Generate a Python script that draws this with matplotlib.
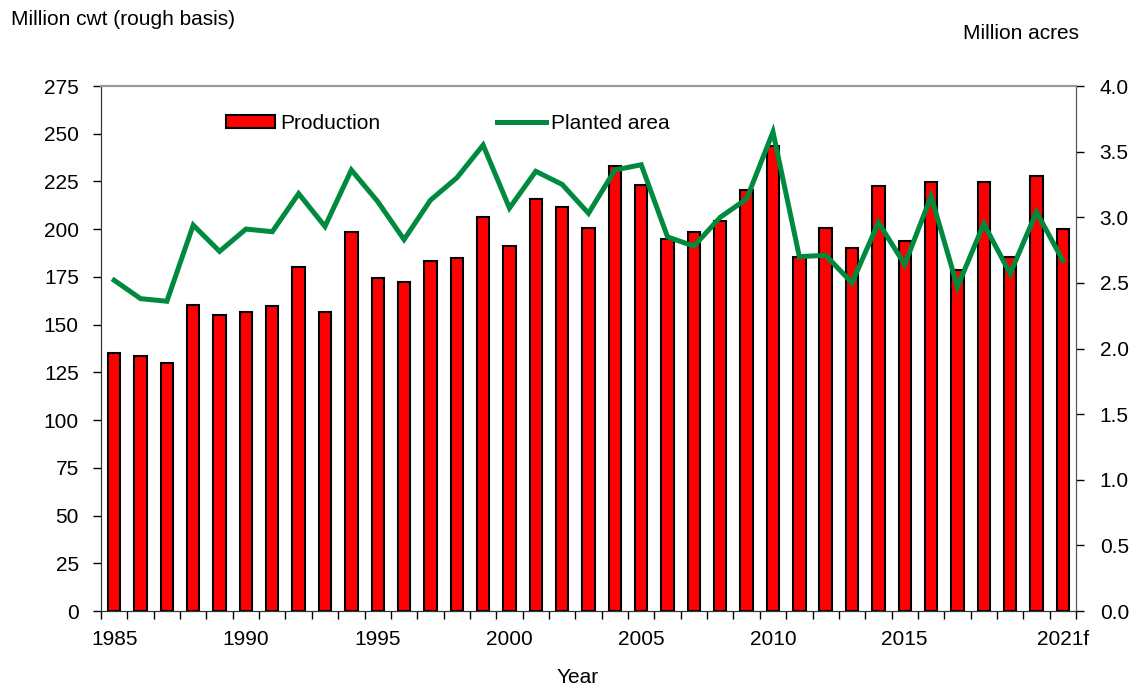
import matplotlib
matplotlib.use("Agg")
import matplotlib.pyplot as plt
import numpy as np

years = list(range(1985, 2022))
production = [135.3, 133.7, 129.7, 160.1, 154.9, 156.5, 159.8, 180.0, 156.5, 198.4,
              174.3, 172.2, 183.3, 184.9, 206.6, 191.4, 215.8, 211.4, 200.4, 233.1,
              223.3, 194.9, 198.7, 204.3, 220.5, 243.8, 185.4, 200.4, 190.0, 222.8,
              193.6, 224.9, 178.6, 224.5, 185.4, 228.0, 199.9]
planted = [2.52, 2.38, 2.36, 2.94, 2.74, 2.91, 2.89, 3.18, 2.93, 3.36,
           3.12, 2.83, 3.13, 3.30, 3.55, 3.07, 3.35, 3.25, 3.03, 3.36,
           3.40, 2.85, 2.78, 3.00, 3.14, 3.65, 2.70, 2.71, 2.50, 2.96,
           2.64, 3.16, 2.47, 2.95, 2.57, 3.04, 2.67]
xlabels = {1985: "1985", 1990: "1990", 1995: "1995", 2000: "2000",
           2005: "2005", 2010: "2010", 2015: "2015", 2021: "2021f"}

plt.rcParams['font.family'] = ['Liberation Sans', 'DejaVu Sans']
FS = 15

fig = plt.figure(figsize=(11.31, 6.88), dpi=100)
ax = fig.add_axes([0.0893, 0.1119, 0.8621, 0.7631])
x = np.arange(len(years))
bars = ax.bar(x, production, width=0.47, color="#FF0000", edgecolor="black",
              linewidth=1.5, label="Production", zorder=2)
ax.set_xlim(-0.5, len(years) - 0.5)
ax.set_ylim(0, 275)
ax.set_yticks(range(0, 276, 25))
ax.tick_params(axis="y", labelsize=FS, length=6, width=1, direction="out", pad=10)

# x ticks: marks at boundaries, labels centred on bars
ax.set_xticks(np.arange(-0.5, len(years), 1.0), minor=True)
ax.set_xticks([years.index(y) for y in xlabels])
ax.set_xticklabels(list(xlabels.values()), fontsize=FS)
ax.tick_params(axis="x", which="major", length=0, pad=14)
ax.tick_params(axis="x", which="minor", length=6, width=1, direction="out")

ax2 = ax.twinx()
line, = ax2.plot(x, planted, color="#008A3E", linewidth=3.6, label="Planted area",
                 solid_joinstyle="miter", zorder=3)
ax2.set_ylim(0, 4.0)
ax2.set_yticks(np.arange(0, 4.01, 0.5))
ax2.set_yticklabels([f"{v:.1f}" for v in np.arange(0, 4.01, 0.5)])
ax2.tick_params(axis="y", labelsize=FS, length=6, width=1, direction="out", pad=11)

for a in (ax, ax2):
    a.spines["top"].set_color("#999999")
    a.spines["top"].set_linewidth(1.5)
    a.spines["left"].set_color("#333333")
    a.spines["right"].set_color("#555555")
    a.spines["bottom"].set_color("#333333")

ax.legend([bars, line], ["Production", "Planted area"], ncol=2, frameon=False,
          loc="center left", bbox_to_anchor=(0.109, 0.929), fontsize=FS,
          handlelength=2.35, handleheight=0.6, columnspacing=5.6, handletextpad=0.25)

fig.text(0.010, 0.971, "Million cwt (rough basis)", fontsize=FS, va="center", ha="left")
fig.text(0.954, 0.951, "Million acres", fontsize=FS, va="center", ha="right")
fig.text(0.511, 0.015, "Year", fontsize=FS, va="center", ha="center")

fig.savefig("out.png", dpi=100)
